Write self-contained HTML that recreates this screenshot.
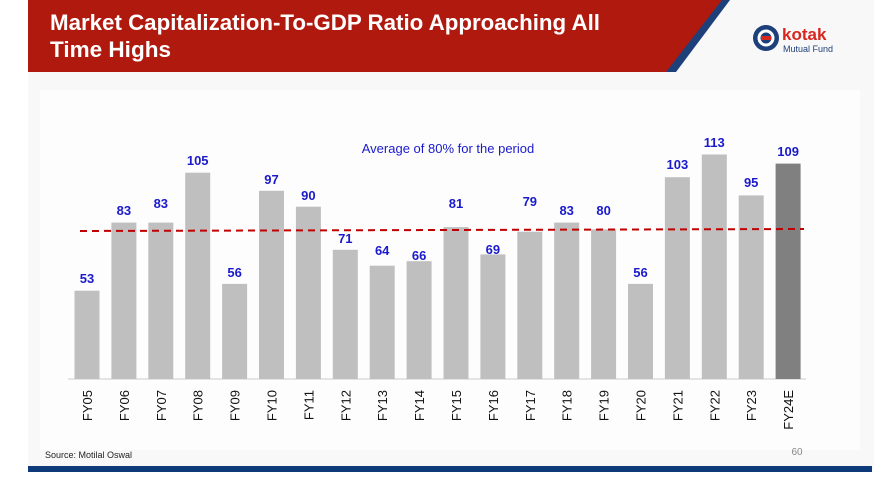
<!DOCTYPE html>
<html><head><meta charset="utf-8"><style>
body{margin:0;width:885px;height:485px;background:#fff;overflow:hidden;font-family:"Liberation Sans",sans-serif}
</style></head><body>
<svg width="885" height="485" viewBox="0 0 885 485" xmlns="http://www.w3.org/2000/svg" font-family="Liberation Sans, sans-serif">
<rect x="0" y="0" width="885" height="485" fill="#fff"/>
<rect x="28" y="0" width="846" height="470" fill="#f8f8f8"/>
<rect x="40" y="90" width="820" height="360" fill="#fdfdfd"/>
<polygon points="700,0 730,0 676,72 656,72" fill="#1d3f7a"/>
<polygon points="28,0 722,0 666,72 28,72" fill="#b0190d"/>
<text x="50" y="30" font-size="22" font-weight="bold" fill="#fff" textLength="550" lengthAdjust="spacingAndGlyphs">Market Capitalization-To-GDP Ratio Approaching All</text>
<text x="50" y="57" font-size="22" font-weight="bold" fill="#fff" textLength="121" lengthAdjust="spacingAndGlyphs">Time Highs</text>
<circle cx="766" cy="38" r="13" fill="#1d3f7a"/>
<circle cx="766" cy="38" r="7" fill="none" stroke="#fff" stroke-width="3"/>
<rect x="761" y="36" width="10" height="4" fill="#d7261e"/>
<text x="782" y="40" font-size="17" font-weight="bold" fill="#d7261e">kotak</text>
<text x="783" y="52" font-size="9" fill="#1d3f7a">Mutual Fund</text>
<line x1="68" y1="379" x2="806" y2="379" stroke="#ccc"/>
<g fill="#bfbfbf">
<rect x="74.5" y="290.7" width="25" height="88.3"/>
<rect x="111.4" y="222.6" width="25" height="156.4"/>
<rect x="148.3" y="222.6" width="25" height="156.4"/>
<rect x="185.2" y="172.7" width="25" height="206.3"/>
<rect x="222.1" y="283.9" width="25" height="95.1"/>
<rect x="259" y="190.8" width="25" height="188.2"/>
<rect x="295.9" y="206.7" width="25" height="172.3"/>
<rect x="332.8" y="249.8" width="25" height="129.2"/>
<rect x="369.7" y="265.7" width="25" height="113.3"/>
<rect x="406.6" y="261.2" width="25" height="117.8"/>
<rect x="443.5" y="227.1" width="25" height="151.9"/>
<rect x="480.4" y="254.4" width="25" height="124.6"/>
<rect x="517.3" y="231.7" width="25" height="147.3"/>
<rect x="554.2" y="222.6" width="25" height="156.4"/>
<rect x="591.1" y="229.4" width="25" height="149.6"/>
<rect x="628" y="283.9" width="25" height="95.1"/>
<rect x="664.9" y="177.2" width="25" height="201.8"/>
<rect x="701.8" y="154.5" width="25" height="224.5"/>
<rect x="738.7" y="195.4" width="25" height="183.6"/>
<rect x="775.6" y="163.6" width="25" height="215.4" fill="#808080"/>
</g>
<g font-size="13" font-weight="bold" fill="#1a1acc" text-anchor="middle">
<text x="87" y="283">53</text>
<text x="123.9" y="215">83</text>
<text x="160.8" y="208">83</text>
<text x="197.7" y="165">105</text>
<text x="234.6" y="277">56</text>
<text x="271.5" y="184">97</text>
<text x="308.4" y="200">90</text>
<text x="345.3" y="243">71</text>
<text x="382.2" y="255">64</text>
<text x="419.1" y="260">66</text>
<text x="456" y="208">81</text>
<text x="492.9" y="254">69</text>
<text x="529.8" y="206">79</text>
<text x="566.7" y="215">83</text>
<text x="603.6" y="215">80</text>
<text x="640.5" y="277">56</text>
<text x="677.4" y="169">103</text>
<text x="714.3" y="147">113</text>
<text x="751.2" y="187">95</text>
<text x="788.1" y="156">109</text>
</g>
<g font-size="13" fill="#111" text-anchor="end">
<text transform="translate(92,390) rotate(-90)">FY05</text>
<text transform="translate(128.9,390) rotate(-90)">FY06</text>
<text transform="translate(165.8,390) rotate(-90)">FY07</text>
<text transform="translate(202.7,390) rotate(-90)">FY08</text>
<text transform="translate(239.6,390) rotate(-90)">FY09</text>
<text transform="translate(276.5,390) rotate(-90)">FY10</text>
<text transform="translate(313.4,390) rotate(-90)">FY11</text>
<text transform="translate(350.3,390) rotate(-90)">FY12</text>
<text transform="translate(387.2,390) rotate(-90)">FY13</text>
<text transform="translate(424.1,390) rotate(-90)">FY14</text>
<text transform="translate(461,390) rotate(-90)">FY15</text>
<text transform="translate(497.9,390) rotate(-90)">FY16</text>
<text transform="translate(534.8,390) rotate(-90)">FY17</text>
<text transform="translate(571.7,390) rotate(-90)">FY18</text>
<text transform="translate(608.6,390) rotate(-90)">FY19</text>
<text transform="translate(645.5,390) rotate(-90)">FY20</text>
<text transform="translate(682.4,390) rotate(-90)">FY21</text>
<text transform="translate(719.3,390) rotate(-90)">FY22</text>
<text transform="translate(756.2,390) rotate(-90)">FY23</text>
<text transform="translate(793.1,390) rotate(-90)">FY24E</text>
</g>
<line x1="80" y1="231" x2="804" y2="229" stroke="#c00000" stroke-width="2" stroke-dasharray="7,5"/>
<text x="448" y="153" font-size="13" fill="#1a1acc" text-anchor="middle">Average of 80% for the period</text>
<text x="45" y="458" font-size="9" fill="#222">Source: Motilal Oswal</text>
<text x="797" y="455" font-size="10" fill="#888" text-anchor="middle">60</text>
<rect x="28" y="466" width="844" height="6" fill="#0f3a7a"/>
</svg>
</body></html>
